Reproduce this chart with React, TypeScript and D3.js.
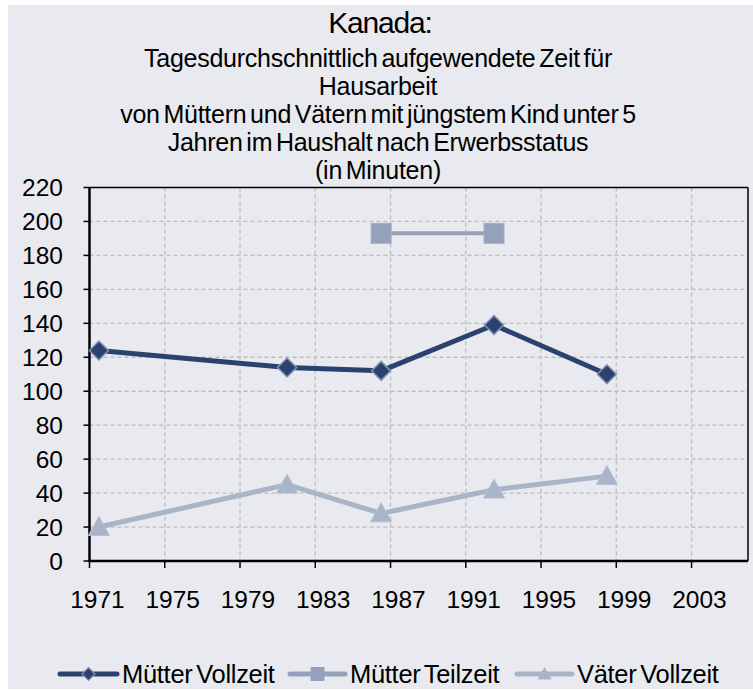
import React from 'react';
import * as d3 from 'd3';

// survey years and values (minutes per day)
const years = [1971, 1981, 1986, 1992, 1998];
const muetterVollzeit = [124, 114, 112, 139, 110];
const muetterTeilzeit = [null, null, 193, 193, null];
const vaeterVollzeit = [20, 45, 28, 42, 50];

const yTicks = [0, 20, 40, 60, 80, 100, 120, 140, 160, 180, 200, 220];
const xLabels = [1971, 1975, 1979, 1983, 1987, 1991, 1995, 1999, 2003];

const titleLines = [
  'Tagesdurchschnittlich aufgewendete Zeit für',
  'Hausarbeit',
  'von Müttern und Vätern mit jüngstem Kind unter 5',
  'Jahren im Haushalt nach Erwerbsstatus',
  '(in Minuten)',
];

const W = 753, H = 691;
const left = 89.5, right = 748, top = 187.5, bottom = 561;
const font = '"Liberation Sans", Arial, sans-serif';

const navy = '#2B4271';
const navyEdge = '#8592B0';
const teil = '#95A1BA';
const vater = '#A9B4C8';

export default function App() {
  const x = d3.scaleLinear().domain([1970.5, 2005.5]).range([left, right]);
  const y = d3.scaleLinear().domain([0, 220]).range([bottom, top]);

  const line = d3.line<any>()
    .defined(d => d.v != null)
    .x(d => x(d.year))
    .y(d => y(d.v));

  const pts = (vals: (number | null)[]) => years.map((yr, i) => ({ year: yr, v: vals[i] }));
  const vz = pts(muetterVollzeit);
  const tz = pts(muetterTeilzeit);
  const vv = pts(vaeterVollzeit);

  const bandEdges = d3.range(1974.5, 2005, 4);
  const tickEdges = d3.range(1970.5, 2005, 4);

  const diamond = (cx: number, cy: number, r: number) =>
    `M${cx},${cy - r}L${cx + r},${cy}L${cx},${cy + r}L${cx - r},${cy}Z`;
  const tri = (cx: number, cy: number, s: number) =>
    `M${cx},${cy - s}L${cx + s},${cy + s * 0.8}L${cx - s},${cy + s * 0.8}Z`;

  const legend = [
    { x0: 60, x1: 117, tx: 122, label: 'Mütter Vollzeit', kind: 'd' },
    { x0: 290, x1: 345, tx: 350, label: 'Mütter Teilzeit', kind: 's' },
    { x0: 517, x1: 572, tx: 577, label: 'Väter Vollzeit', kind: 't' },
  ];
  const ly = 674;

  return (
    <svg width={W} height={H} style={{ position: 'absolute', left: 0, top: 0 }} fontFamily={font}>
      <rect width={W} height={H} fill="#fff" />
      <rect x={8} y={5} width={W - 8} height={684} fill="#E8EAEF" />

      {/* title */}
      <text x={380} y={33} textAnchor="middle" fontSize={30} letterSpacing={-1.2} fill="#000">Kanada:</text>
      {titleLines.map((t, i) => (
        <text key={t} x={378} y={67 + i * 28} textAnchor="middle" fontSize={25} fill="#000"
          letterSpacing={-0.25} wordSpacing={-3}>{t}</text>
      ))}

      {/* grid */}
      {yTicks.filter(v => v > 0 && v < 220).map(v => (
        <line key={'h' + v} x1={left} x2={right} y1={y(v)} y2={y(v)} stroke="#BDBDBD" strokeWidth={1.3} strokeDasharray="4,3" />
      ))}
      {bandEdges.map(v => (
        <line key={'v' + v} x1={x(v)} x2={x(v)} y1={top} y2={bottom} stroke="#BDBDBD" strokeWidth={1.3} strokeDasharray="4,3" />
      ))}

      {/* frame */}
      <line x1={left} x2={right} y1={top} y2={top} stroke="#000" strokeWidth={1.5} />
      <line x1={right} x2={right} y1={top} y2={bottom} stroke="#000" strokeWidth={1.5} />
      <line x1={left} x2={left} y1={top} y2={bottom + 1} stroke="#000" strokeWidth={2.5} />
      <line x1={left - 1} x2={right} y1={bottom} y2={bottom} stroke="#000" strokeWidth={2.5} />

      {/* y axis */}
      {yTicks.map(v => (
        <g key={'y' + v}>
          <line x1={left - 6} x2={left} y1={y(v)} y2={y(v)} stroke="#000" strokeWidth={1.5} />
          <text x={63} y={y(v)} dy="0.36em" textAnchor="end" fontSize={24.5}>{v}</text>
        </g>
      ))}

      {/* x axis */}
      {tickEdges.map(v => (
        <line key={'xt' + v} x1={x(v)} x2={x(v)} y1={bottom} y2={bottom + 7} stroke="#000" strokeWidth={1.5} />
      ))}
      {xLabels.map(v => (
        <text key={'xl' + v} x={x(v) - 1.5} y={608} textAnchor="middle" fontSize={24.5}>{v}</text>
      ))}

      {/* series */}
      <path d={line(vv) || ''} fill="none" stroke={vater} strokeWidth={5} strokeLinejoin="round" />
      {vv.map(d => (
        <path key={'tv' + d.year} d={tri(x(d.year), y(d.v!), 10.5)} fill={vater} stroke="#B5BFD0" strokeWidth={1} />
      ))}

      <path d={line(tz) || ''} fill="none" stroke={teil} strokeWidth={4} />
      {tz.filter(d => d.v != null).map(d => (
        <rect key={'sq' + d.year} x={x(d.year) - 10} y={y(d.v!) - 10} width={20} height={20} fill={teil} stroke="#A3AEC4" strokeWidth={1} />
      ))}

      <path d={line(vz) || ''} fill="none" stroke={navy} strokeWidth={5} strokeLinejoin="round" />
      {vz.map(d => (
        <path key={'dv' + d.year} d={diamond(x(d.year), y(d.v), 9.5)} fill={navy} stroke={navyEdge} strokeWidth={1.5} />
      ))}

      {/* legend */}
      {legend.map(l => {
        const c = l.kind === 'd' ? navy : l.kind === 's' ? teil : vater;
        const cx = (l.x0 + l.x1) / 2;
        return (
          <g key={l.label}>
            <line x1={l.x0} x2={l.x1} y1={ly} y2={ly} stroke={c} strokeWidth={5} strokeLinecap="round" />
            {l.kind === 'd' && <path d={diamond(cx, ly, 6.5)} fill={navy} stroke={navyEdge} strokeWidth={1.2} />}
            {l.kind === 's' && <rect x={cx - 7} y={ly - 7} width={14} height={14} fill={teil} />}
            {l.kind === 't' && <path d={tri(cx, ly, 7)} fill={vater} />}
            <text x={l.tx} y={ly} dy="0.36em" fontSize={25.5} letterSpacing={-0.3} wordSpacing={-3}>{l.label}</text>
          </g>
        );
      })}
    </svg>
  );
}
